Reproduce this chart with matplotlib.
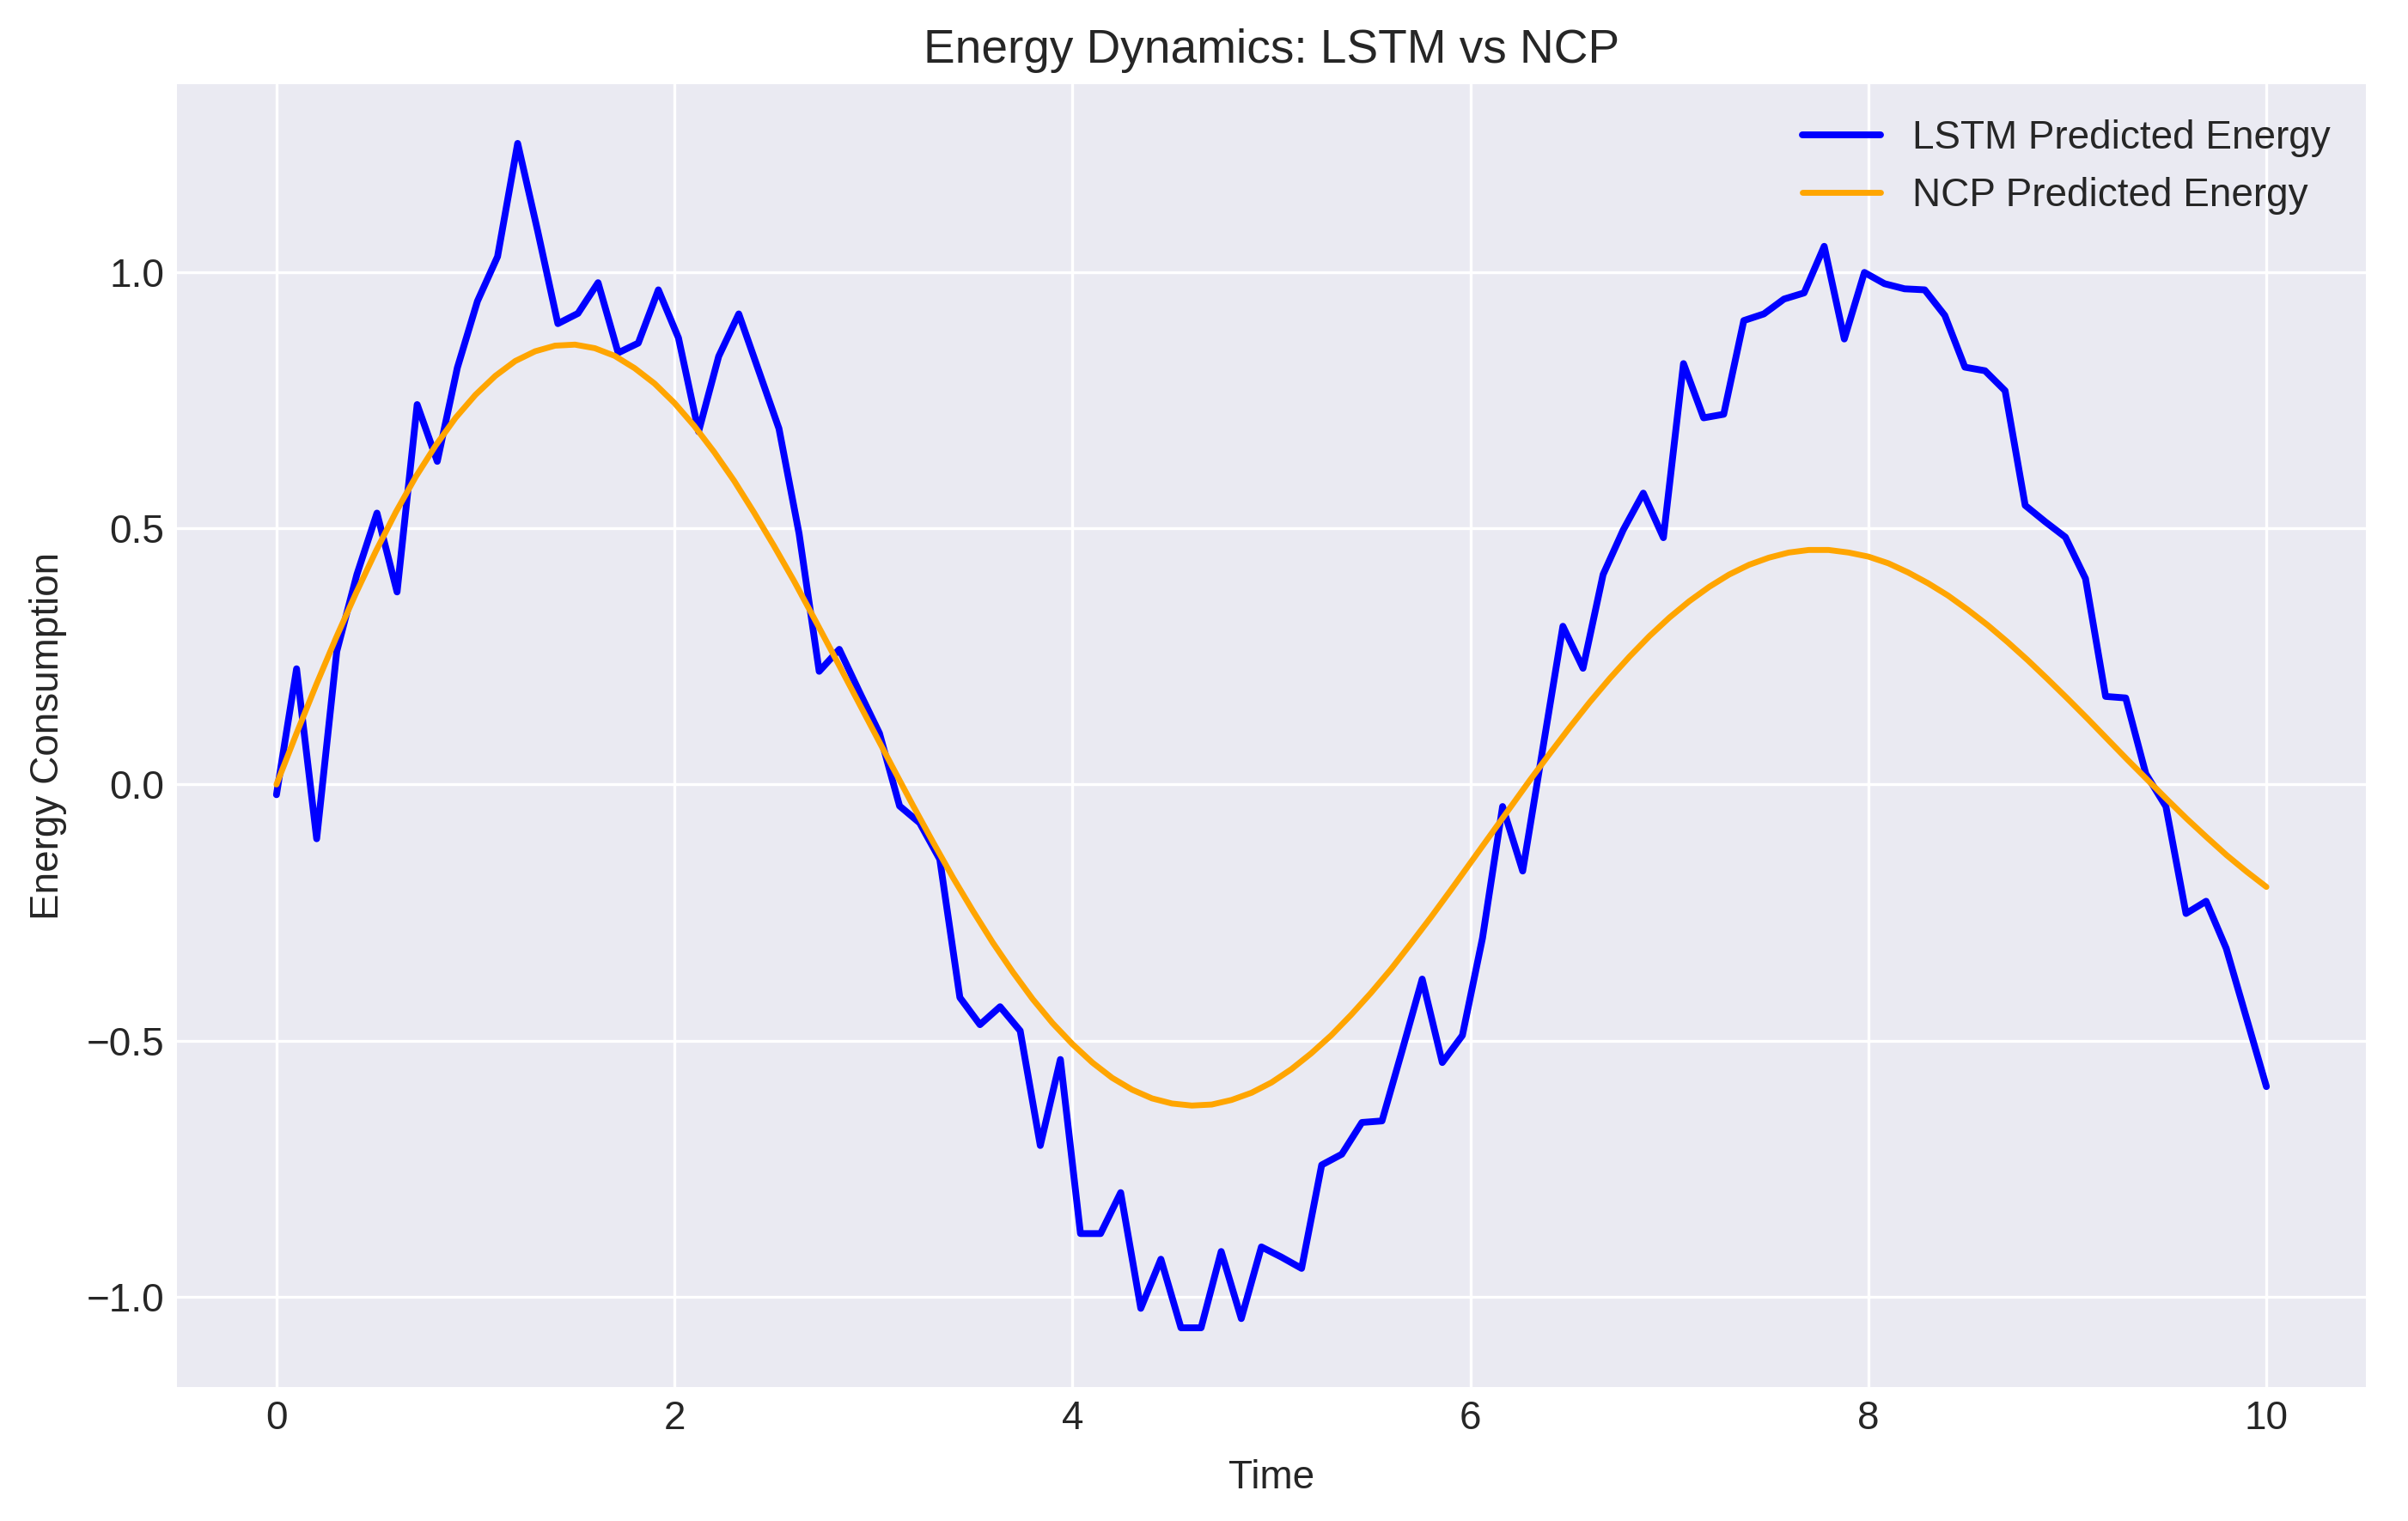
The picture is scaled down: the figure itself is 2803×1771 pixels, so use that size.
import numpy as np
import matplotlib
matplotlib.use("Agg")
import matplotlib.pyplot as plt

# ---- data ----
lstm_time = np.linspace(0, 10, 100)
lstm_energy = [
    -0.02, 0.226, -0.106, 0.26, 0.41, 0.53, 0.376, 0.742, 0.631, 0.814,
    0.944, 1.031, 1.252, 1.08, 0.90, 0.92, 0.98, 0.843, 0.862, 0.966,
    0.872, 0.689, 0.836, 0.919, 0.807, 0.695, 0.49, 0.221, 0.264, 0.181,
    0.10, -0.042, -0.075, -0.146, -0.416, -0.469, -0.434, -0.481, -0.705, -0.537,
    -0.877, -0.877, -0.797, -1.023, -0.927, -1.061, -1.061, -0.912, -1.043, -0.903,
    -0.923, -0.945, -0.743, -0.722, -0.66, -0.657, -0.52, -0.38, -0.543, -0.49,
    -0.30, -0.043, -0.169, 0.07, 0.309, 0.227, 0.41, 0.497, 0.569, 0.482,
    0.822, 0.716, 0.723, 0.906, 0.919, 0.948, 0.96, 1.051, 0.87, 1.0,
    0.978, 0.968, 0.966, 0.916, 0.815, 0.808, 0.769, 0.545, 0.513, 0.483,
    0.402, 0.172, 0.169, 0.021, -0.043, -0.252, -0.228, -0.32, -0.455, -0.59,
]

ncp_time = [round(0.1 * k, 1) for k in range(101)]
ncp_energy = [
    0.0, 0.099, 0.195, 0.287, 0.374, 0.456, 0.532, 0.601, 0.662, 0.716,
    0.761, 0.798, 0.827, 0.846, 0.857, 0.859, 0.852, 0.837, 0.813, 0.783,
    0.745, 0.700, 0.649, 0.593, 0.531, 0.466, 0.398, 0.326, 0.253, 0.179,
    0.105, 0.031, -0.042, -0.113, -0.182, -0.247, -0.309, -0.366, -0.419, -0.466,
    -0.507, -0.543, -0.573, -0.596, -0.613, -0.623, -0.627, -0.625, -0.616, -0.602,
    -0.582, -0.556, -0.525, -0.490, -0.450, -0.407, -0.361, -0.311, -0.260, -0.207,
    -0.153, -0.099, -0.045, 0.009, 0.061, 0.112, 0.161, 0.207, 0.250, 0.290,
    0.326, 0.358, 0.386, 0.410, 0.429, 0.443, 0.453, 0.458, 0.458, 0.453,
    0.445, 0.432, 0.414, 0.393, 0.369, 0.341, 0.311, 0.278, 0.243, 0.206,
    0.168, 0.129, 0.089, 0.049, 0.010, -0.029, -0.067, -0.103, -0.138, -0.170,
    -0.200,
]

title = "Energy Dynamics: LSTM vs NCP"
xlabel = "Time"
ylabel = "Energy Consumption"
labels = ["LSTM Predicted Energy", "NCP Predicted Energy"]

# ---- style ----
plt.style.use("seaborn-v0_8-darkgrid")
plt.rcParams["font.family"] = ["Liberation Sans", "DejaVu Sans"]

fig = plt.figure(figsize=(2804 / 300, 1771 / 300), dpi=300)
ax = fig.add_axes([206 / 2804, 1 - 1615 / 1771, (2754 - 206) / 2804, (1615 - 98) / 1771])

ax.plot(lstm_time, lstm_energy, color="blue", lw=1.9, label=labels[0])
ax.plot(ncp_time, ncp_energy, color="orange", lw=1.65, label=labels[1])

ax.set_title(title, fontsize=13.2, pad=6)
ax.set_xlabel(xlabel, fontsize=11, labelpad=6)
ax.set_ylabel(ylabel, fontsize=11, labelpad=5.5)
ax.tick_params(labelsize=11)
ax.set_yticks([-1.0, -0.5, 0.0, 0.5, 1.0])
ax.legend(loc="upper right", fontsize=11)

fig.savefig("out.png", dpi=300)
